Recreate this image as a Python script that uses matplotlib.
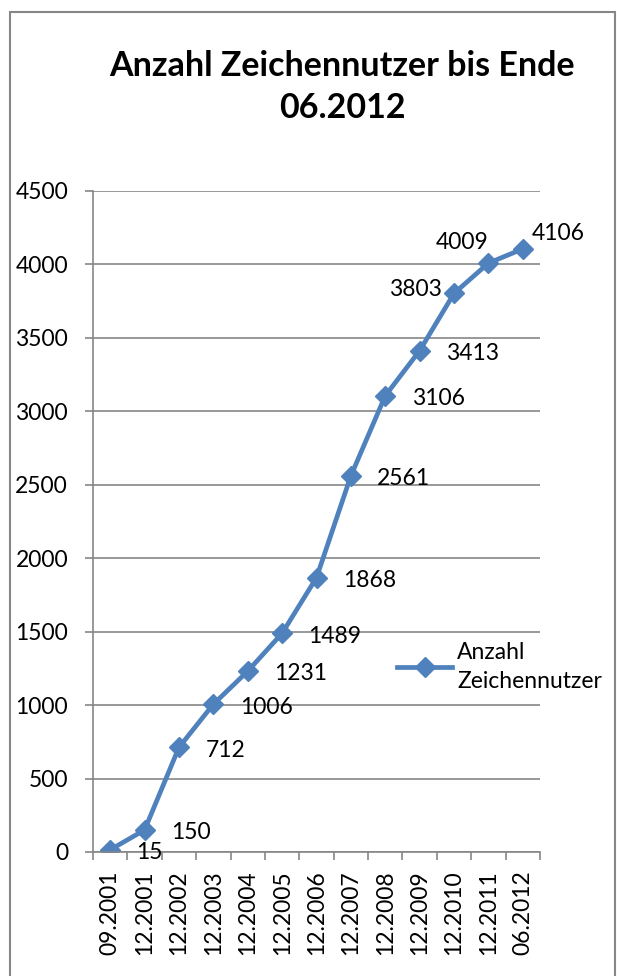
import numpy as np
import matplotlib.pyplot as plt
from matplotlib.patches import Rectangle

# data
categories = ["09.2001", "12.2001", "12.2002", "12.2003", "12.2004", "12.2005", "12.2006",
              "12.2007", "12.2008", "12.2009", "12.2010", "12.2011", "06.2012"]
users = [15, 150, 712, 1006, 1231, 1489, 1868, 2561, 3106, 3413, 3803, 4009, 4106]

# label offsets in points (dx, dy, ha)
label_pos = [(19, -2, "left")] * 10 + [(-9, 3, "right"), (-19, 15, "center"), (6.5, 11, "left")]

plt.rcParams['font.family'] = ['Lato', 'DejaVu Sans']
blue = "#4F81BD"
grey = "#868686"
fs = 16.5

fig = plt.figure(figsize=(6.17, 9.76), dpi=100)
ax = fig.add_axes([93/617, 1-852/976, 447/617, 661/976])

x = np.arange(len(categories))
ax.plot(x, users, color=blue, lw=3.4, marker="D", ms=10.3, label="Anzahl\nZeichennutzer")

for xi, v, (dx, dy, ha) in zip(x, users, label_pos):
    ax.annotate(str(v), (xi, v), xytext=(dx, dy), textcoords="offset points",
                ha=ha, va="center", fontsize=fs)

ax.set_xlim(-0.5, len(categories) - 0.5)
ax.set_ylim(0, 4500)
ax.set_yticks(np.arange(0, 4501, 500))
ax.yaxis.grid(True, color=grey, lw=1.2)
ax.set_axisbelow(True)

ax.set_xticks(x)
ax.set_xticklabels(categories, rotation=90)
ax.set_xticks(np.arange(-0.5, len(categories)), minor=True)
ax.tick_params(axis="x", which="major", length=0, pad=13, labelsize=fs)
ax.tick_params(axis="x", which="minor", length=6, width=1.2, color=grey)
ax.tick_params(axis="y", length=6, width=1.2, color=grey, labelsize=fs, pad=12)

for s in ["top", "right"]:
    ax.spines[s].set_visible(False)
for s in ["left", "bottom"]:
    ax.spines[s].set_color(grey)
    ax.spines[s].set_linewidth(1.2)

fig.text(342/617, 1-87/976, "Anzahl Zeichennutzer bis Ende\n06.2012", ha="center", va="center",
         fontsize=24.5, fontweight="bold", linespacing=1.4)

leg = fig.legend(loc="center left", bbox_to_anchor=(386/617, 1-667/976), frameon=False,
                 fontsize=fs, handlelength=2.4, handletextpad=0.2, borderpad=0, labelspacing=0)
leg.get_texts()[0].set_linespacing(1.45)

fig.patches.append(Rectangle((10/617, -0.05), 605/617, 1.05 - 12/976, transform=fig.transFigure,
                             fill=False, edgecolor=grey, lw=1.5))

fig.savefig("out.png", dpi=100)
